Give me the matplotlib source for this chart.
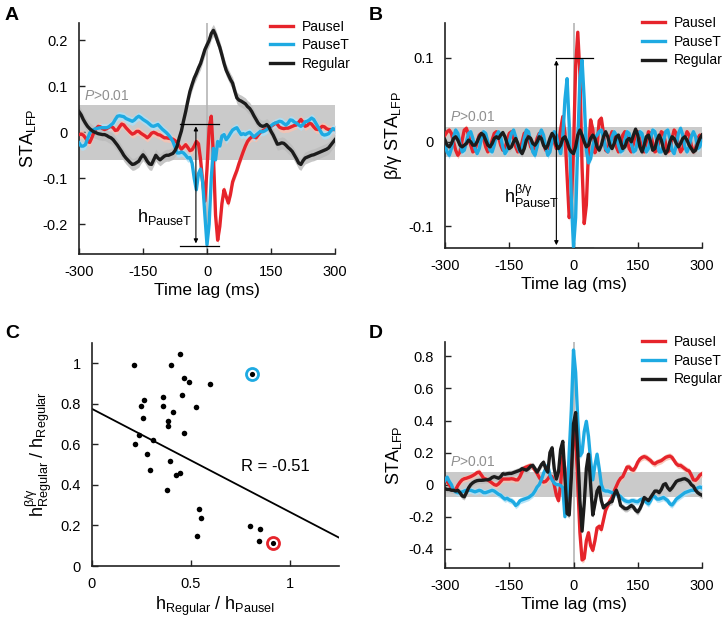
import numpy as np
import matplotlib.pyplot as plt

plt.rcParams['font.family'] = ['Liberation Sans', 'DejaVu Sans']
plt.rcParams['mathtext.fontset'] = 'custom'
plt.rcParams['mathtext.rm'] = 'Liberation Sans'
plt.rcParams['mathtext.it'] = 'Liberation Sans:italic'
plt.rcParams['mathtext.bf'] = 'Liberation Sans:bold'
plt.rcParams['axes.unicode_minus'] = False

# time lag axis (ms), 5 ms bins
lag = np.arange(-300, 301, 5)

# ---- panel A: STA_LFP ----
a_pausei = [
    -0.005, -0.004, -0.006, -0.012, -0.020, -0.022, -0.012, 0.000, 0.008, 0.013,
    0.012, 0.008, 0.006, 0.008, 0.011, 0.013, 0.010, 0.004, 0.005, 0.012,
    0.018, 0.016, 0.010, 0.005, 0.000, -0.004, -0.002, 0.002, 0.002, -0.002,
    -0.005, -0.008, -0.012, -0.008, -0.002, 0.000, -0.002, -0.005, -0.006, -0.009,
    -0.012, -0.012, -0.013, -0.014, -0.015, -0.018, -0.023, -0.030, -0.037, -0.032,
    -0.027, -0.033, -0.040, -0.038, -0.030, -0.020, -0.025, -0.060, -0.110, -0.150,
    -0.080, 0.010, 0.035, -0.050, -0.180, -0.235, -0.205, -0.155, -0.125, -0.140,
    -0.154, -0.135, -0.108, -0.095, -0.083, -0.068, -0.055, -0.042, -0.030, -0.020,
    -0.014, -0.010, -0.010, -0.012, -0.006, 0.000, 0.003, 0.006, 0.008, 0.011,
    0.013, 0.016, 0.020, 0.017, 0.011, 0.009, 0.008, 0.009, 0.009, 0.011,
    0.013, 0.015, 0.016, 0.022, 0.028, 0.022, 0.013, 0.015, 0.020, 0.018,
    0.012, 0.007, 0.006, 0.009, 0.013, 0.012, 0.008, 0.006, 0.006, 0.006,
    0.006]
a_pauset = [
    -0.023, -0.030, -0.030, -0.027, -0.014, -0.002, 0.004, 0.006, 0.008, 0.009,
    0.010, 0.010, 0.010, 0.010, 0.012, 0.016, 0.020, 0.028, 0.035, 0.036,
    0.035, 0.034, 0.030, 0.028, 0.026, 0.024, 0.027, 0.032, 0.035, 0.032,
    0.028, 0.025, 0.022, 0.018, 0.014, 0.013, 0.015, 0.017, 0.012, 0.007,
    0.003, -0.001, -0.006, -0.012, -0.020, -0.032, -0.045, -0.045, -0.043, -0.045,
    -0.050, -0.056, -0.055, -0.067, -0.100, -0.125, -0.090, -0.080, -0.110, -0.180,
    -0.245, -0.200, -0.100, -0.035, -0.060, -0.020, -0.030, -0.008, -0.005, -0.016,
    -0.010, -0.002, 0.005, 0.008, 0.010, 0.002, -0.005, -0.003, -0.005, -0.002,
    0.000, -0.005, -0.010, -0.006, -0.002, 0.002, 0.001, 0.003, 0.006, 0.010,
    0.014, 0.018, 0.020, 0.022, 0.024, 0.023, 0.019, 0.016, 0.020, 0.027,
    0.026, 0.022, 0.020, 0.016, 0.013, 0.017, 0.023, 0.024, 0.027, 0.031,
    0.028, 0.020, 0.012, 0.004, -0.004, -0.006, -0.005, -0.003, 0.003, 0.008,
    0.006]
a_regular = [
    0.045, 0.038, 0.028, 0.020, 0.013, 0.008, 0.004, 0.001, -0.001, -0.003,
    -0.004, -0.005, -0.005, -0.007, -0.010, -0.012, -0.016, -0.022, -0.028, -0.035,
    -0.042, -0.050, -0.056, -0.061, -0.066, -0.070, -0.069, -0.066, -0.063, -0.055,
    -0.049, -0.055, -0.063, -0.069, -0.070, -0.060, -0.050, -0.056, -0.060, -0.056,
    -0.052, -0.050, -0.050, -0.048, -0.046, -0.040, -0.030, -0.012, 0.003, 0.025,
    0.045, 0.068, 0.089, 0.104, 0.118, 0.128, 0.140, 0.150, 0.165, 0.180,
    0.190, 0.200, 0.215, 0.222, 0.212, 0.198, 0.185, 0.168, 0.150, 0.135,
    0.125, 0.115, 0.107, 0.090, 0.075, 0.070, 0.068, 0.065, 0.062, 0.056,
    0.052, 0.045, 0.036, 0.028, 0.020, 0.015, 0.013, 0.014, 0.017, 0.012,
    0.002, -0.006, -0.016, -0.026, -0.025, -0.023, -0.024, -0.028, -0.033, -0.037,
    -0.042, -0.050, -0.058, -0.067, -0.070, -0.062, -0.056, -0.054, -0.052, -0.050,
    -0.049, -0.047, -0.045, -0.043, -0.041, -0.039, -0.037, -0.034, -0.028, -0.022,
    -0.016]
a_sem = [0.009, 0.009, 0.013]
a_sig = 0.06

# ---- panel B: beta/gamma filtered STA_LFP ----
b_pausei = [
    0.008, 0.012, 0.014, 0.010, 0.000, -0.010, -0.016, -0.012, 0.002, 0.014,
    0.016, 0.008, -0.004, -0.012, -0.010, 0.000, 0.008, 0.010, 0.004, -0.006,
    -0.012, -0.008, 0.002, 0.010, 0.012, 0.006, -0.004, -0.010, -0.008, 0.002,
    0.010, 0.012, 0.004, -0.006, -0.012, -0.010, 0.000, 0.010, 0.012, 0.004,
    -0.006, -0.010, -0.006, 0.004, 0.010, 0.008, -0.002, -0.010, -0.008, 0.002,
    0.006, 0.000, -0.008, -0.004, 0.015, 0.030, 0.010, -0.040, -0.090, -0.070,
    -0.010, 0.090, 0.130, 0.080, -0.030, -0.097, -0.075, -0.010, 0.026, 0.015,
    -0.013, -0.005, 0.025, 0.028, 0.010, -0.010, -0.012, 0.004, 0.012, 0.006,
    -0.006, -0.012, -0.004, 0.008, 0.012, 0.004, -0.008, -0.012, -0.002, 0.010,
    0.012, 0.002, -0.010, -0.012, 0.000, 0.012, 0.010, -0.002, -0.012, -0.010,
    0.002, 0.012, 0.010, -0.002, -0.012, -0.010, 0.004, 0.014, 0.010, -0.004,
    -0.012, -0.008, 0.004, 0.012, 0.008, -0.004, -0.012, -0.008, 0.004, 0.008,
    0.004]
b_pauset = [
    -0.004, -0.012, -0.016, -0.008, 0.006, 0.014, 0.010, -0.002, -0.012, -0.010,
    0.000, 0.010, 0.012, 0.004, -0.008, -0.014, -0.008, 0.004, 0.012, 0.010,
    0.000, -0.010, -0.012, -0.004, 0.008, 0.012, 0.006, -0.006, -0.014, -0.010,
    0.000, 0.010, 0.014, 0.006, -0.006, -0.012, -0.008, 0.004, 0.014, 0.012,
    0.000, -0.012, -0.016, -0.006, 0.008, 0.014, 0.008, -0.006, -0.016, -0.012,
    0.002, 0.012, 0.008, -0.006, -0.014, 0.005, 0.050, 0.075, 0.020, -0.070,
    -0.125, -0.090, 0.000, 0.075, 0.097, 0.050, -0.010, -0.025, -0.020, -0.005,
    0.005, 0.008, 0.012, 0.014, 0.005, -0.008, -0.012, -0.006, 0.006, 0.012,
    0.008, -0.004, -0.012, -0.010, 0.002, 0.012, 0.010, -0.002, -0.012, -0.010,
    0.002, 0.012, 0.010, -0.004, -0.012, -0.008, 0.004, 0.014, 0.012, 0.000,
    -0.012, -0.012, 0.000, 0.012, 0.014, 0.004, -0.010, -0.014, -0.004, 0.010,
    0.016, 0.008, -0.006, -0.012, -0.006, 0.006, 0.012, 0.006, -0.008, -0.006,
    0.004]
b_regular = [
    0.002, -0.004, -0.006, -0.002, 0.004, 0.006, 0.002, -0.004, -0.006, -0.004,
    -0.002, 0.002, 0.000, -0.004, -0.004, 0.000, 0.006, 0.010, 0.008, 0.002,
    -0.004, -0.006, -0.002, 0.004, 0.006, 0.004, 0.008, 0.011, 0.006, -0.002,
    -0.008, -0.006, 0.000, 0.004, -0.002, -0.010, -0.014, -0.008, 0.002, 0.006,
    0.004, -0.002, -0.004, 0.000, 0.006, 0.004, -0.004, -0.008, -0.004, 0.004,
    0.010, 0.006, -0.004, -0.008, -0.004, 0.004, 0.006, 0.000, -0.008, -0.012,
    -0.014, -0.006, 0.008, 0.014, 0.008, 0.000, -0.006, -0.004, 0.004, 0.008,
    0.004, -0.006, -0.010, -0.004, 0.006, 0.012, 0.006, -0.004, -0.008, -0.002,
    0.006, 0.008, 0.000, -0.008, -0.006, 0.002, 0.004, 0.000, 0.008, 0.015,
    0.008, -0.006, -0.012, -0.004, 0.006, 0.008, 0.000, -0.010, -0.008, 0.002,
    0.008, 0.002, -0.008, -0.014, -0.010, 0.000, 0.006, 0.004, -0.002, -0.006,
    -0.002, 0.004, 0.006, 0.002, -0.004, -0.008, -0.012, -0.010, -0.002, 0.004,
    0.008]
b_sem = [0.004, 0.004, 0.004]
b_sig = 0.018

# ---- panel D: STA_LFP ----
d_pausei = [
    0.037, 0.020, 0.000, -0.020, -0.035, -0.030, -0.005, 0.015, 0.030, 0.037,
    0.040, 0.045, 0.050, 0.057, 0.065, 0.075, 0.078, 0.060, 0.040, 0.035,
    0.030, 0.020, 0.010, 0.000, -0.004, 0.005, 0.020, 0.035, 0.035, 0.035,
    0.035, 0.037, 0.035, 0.030, 0.030, 0.050, 0.080, 0.105, 0.110, 0.115,
    0.120, 0.110, 0.090, 0.070, 0.045, 0.025, 0.016, 0.020, 0.035, 0.055,
    0.050, 0.000, -0.066, -0.100, 0.000, 0.180, 0.100, -0.130, -0.100, 0.100,
    0.330, 0.300, 0.000, -0.300, -0.470, -0.460, -0.350, -0.300, -0.380, -0.410,
    -0.350, -0.270, -0.260, -0.280, -0.220, -0.160, -0.130, -0.100, -0.080, -0.040,
    -0.010, 0.020, 0.040, 0.050, 0.080, 0.110, 0.110, 0.095, 0.090, 0.110,
    0.140, 0.160, 0.170, 0.175, 0.170, 0.160, 0.150, 0.135, 0.130, 0.140,
    0.145, 0.150, 0.160, 0.170, 0.175, 0.178, 0.170, 0.150, 0.130, 0.120,
    0.120, 0.110, 0.100, 0.090, 0.085, 0.060, 0.030, 0.027, 0.040, 0.060,
    0.068]
d_pauset = [
    0.026, 0.047, 0.020, 0.000, -0.035, -0.045, -0.050, -0.050, -0.045, -0.040,
    -0.035, -0.035, -0.035, -0.040, -0.045, -0.040, -0.035, -0.040, -0.050, -0.050,
    -0.045, -0.040, -0.035, -0.040, -0.050, -0.060, -0.066, -0.080, -0.090, -0.085,
    -0.095, -0.100, -0.110, -0.130, -0.120, -0.100, -0.095, -0.090, -0.085, -0.080,
    -0.070, -0.060, -0.040, -0.015, 0.000, 0.030, 0.070, 0.100, 0.120, 0.060,
    0.030, 0.010, 0.000, 0.000, -0.005, -0.020, -0.200, -0.100, 0.200, 0.470,
    0.840, 0.700, 0.400, 0.180, 0.200, 0.330, 0.395, 0.300, 0.150, 0.030,
    0.120, 0.190, 0.100, 0.000, -0.035, -0.040, -0.040, -0.045, -0.050, -0.055,
    -0.060, -0.065, -0.075, -0.090, -0.100, -0.105, -0.107, -0.100, -0.100, -0.105,
    -0.107, -0.095, -0.090, -0.095, -0.110, -0.120, -0.100, -0.070, -0.075, -0.090,
    -0.090, -0.085, -0.080, -0.090, -0.100, -0.120, -0.127, -0.110, -0.090, -0.080,
    -0.070, -0.060, -0.050, -0.045, -0.040, -0.035, -0.035, -0.030, -0.020, -0.015,
    -0.020]
d_regular = [
    -0.025, -0.030, -0.030, -0.035, -0.035, -0.040, -0.035, -0.050, -0.070, -0.076,
    -0.050, -0.020, 0.000, 0.012, 0.020, 0.025, 0.027, 0.027, 0.028, 0.030,
    0.030, 0.035, 0.045, 0.050, 0.045, 0.040, 0.050, 0.068, 0.065, 0.068,
    0.070, 0.070, 0.075, 0.080, 0.085, 0.090, 0.100, 0.095, 0.090, 0.100,
    0.115, 0.120, 0.100, 0.078, 0.100, 0.125, 0.140, 0.100, 0.078, 0.200,
    0.230, 0.100, 0.035, 0.080, 0.220, 0.270, 0.050, -0.180, -0.190, 0.050,
    0.380, 0.450, 0.200, -0.100, -0.290, -0.120, 0.100, 0.190, 0.000, -0.190,
    -0.120, -0.040, -0.015, -0.100, -0.145, -0.130, -0.120, -0.110, -0.105, -0.060,
    -0.035, -0.070, -0.130, -0.140, -0.150, -0.150, -0.140, -0.130, -0.140, -0.160,
    -0.170, -0.150, -0.120, -0.080, -0.090, -0.100, -0.080, -0.060, -0.040, -0.040,
    -0.050, -0.030, 0.000, 0.006, -0.020, -0.035, -0.020, 0.000, 0.020, 0.027,
    0.030, 0.035, 0.037, 0.030, 0.020, 0.000, -0.010, -0.035, -0.050, -0.060,
    -0.066]
d_sem = [0.02, 0.02, 0.02]
d_sig = 0.08

# ---- panel C: scatter ----
c_x = [0.214, 0.401, 0.444, 0.466, 0.490, 0.598, 0.359, 0.264, 0.456, 0.247,
       0.359, 0.412, 0.525, 0.258, 0.387, 0.387, 0.468, 0.237, 0.219, 0.311,
       0.276, 0.397, 0.295, 0.446, 0.423, 0.382, 0.540, 0.550, 0.529, 0.798,
       0.852, 0.843]
c_y = [0.990, 0.990, 1.048, 0.929, 0.910, 0.898, 0.832, 0.819, 0.845, 0.791,
       0.788, 0.758, 0.783, 0.729, 0.717, 0.691, 0.656, 0.648, 0.604, 0.620,
       0.551, 0.518, 0.472, 0.460, 0.447, 0.375, 0.280, 0.238, 0.150, 0.199,
       0.181, 0.125]
c_pausei = (0.916, 0.115)
c_pauset = (0.810, 0.946)
c_fit_x = [0.0, 1.25]
c_fit_y = [0.775, 0.140]

names = ['PauseI', 'PauseT', 'Regular']
RED = '#e6242b'
BLUE = '#1eaae2'
BLACK = '#1c1c1c'
colors = [RED, BLUE, BLACK]
band_colors = ['#f8c2b2', '#ace0f6', '#bcbcbc']
SIG = '#cacaca'

fig = plt.figure(figsize=(7.28, 6.27), dpi=100)


def style_axes(ax):
    for s in ['top', 'right']:
        ax.spines[s].set_visible(False)
    for s in ['left', 'bottom']:
        ax.spines[s].set_linewidth(1.2)
        ax.spines[s].set_color('#222222')
    ax.tick_params(direction='in', length=4, width=1, labelsize=10.5, color='#222222', pad=8)


def trace_panel(rect, series, sems, sig, ylim, yticks, ylabel, ptext_y, leg_anchor):
    ax = fig.add_axes(rect)
    ax.axhspan(-sig, sig, color=SIG, lw=0, zorder=0)
    ax.axvline(0, color='#b5b5b5', lw=1.2, zorder=1)
    for vals, sem, bc in zip(series, sems, band_colors):
        v = np.array(vals)
        ax.fill_between(lag, v - sem, v + sem, color=bc, lw=0, alpha=0.85, zorder=2)
    for vals, name, c in zip(series, names, colors):
        ax.plot(lag, vals, color=c, lw=2.4, label=name, zorder=3)
    ax.set_xlim(-300, 300)
    ax.set_ylim(*ylim)
    ax.set_xticks([-300, -150, 0, 150, 300])
    ax.set_xticklabels(['-300', '-150', '0', '150', '300'])
    ax.set_yticks(yticks)
    ax.set_yticklabels(['0' if t == 0 else ('%g' % t) for t in yticks])
    ax.set_xlabel('Time lag (ms)', fontsize=12.5, labelpad=3)
    ax.set_ylabel(ylabel, fontsize=13, labelpad=3)
    ax.text(-288, ptext_y, r'$P$>0.01', color='#8f8f8f', fontsize=10, va='bottom')
    ax.legend(frameon=False, loc='upper left', bbox_to_anchor=leg_anchor, fontsize=10,
              handlelength=1.7, handletextpad=0.6, labelspacing=0.33, borderpad=0,
              borderaxespad=0)
    style_axes(ax)
    return ax


# A
axA = trace_panel([79 / 728, 1 - 254 / 627, 256 / 728, 231 / 627],
                  [a_pausei, a_pauset, a_regular], a_sem, a_sig, (-0.265, 0.238),
                  [-0.2, -0.1, 0, 0.1, 0.2], r'STA$_\mathregular{LFP}$', 0.063, (0.745, 1.015))
axA.plot([-63, 27], [0.019, 0.019], color='k', lw=0.9, zorder=4)
axA.plot([-63, 27], [-0.248, -0.248], color='k', lw=0.9, zorder=4)
axA.annotate('', xy=(-26, -0.248), xytext=(-26, 0.019),
             arrowprops=dict(arrowstyle='<|-|>', color='k', lw=0.8, mutation_scale=6), zorder=4)
axA.text(-34, -0.185, r'h$_\mathregular{PauseT}$', fontsize=13, ha='right', va='center')

# B
axB = trace_panel([445 / 728, 1 - 248 / 627, 257 / 728, 225 / 627],
                  [b_pausei, b_pauset, b_regular], b_sem, b_sig, (-0.126, 0.141),
                  [-0.1, 0, 0.1], r'β/γ STA$_\mathregular{LFP}$', 0.021, (0.765, 1.03))
axB.plot([-42, 46], [0.1, 0.1], color='k', lw=0.9, zorder=4)
axB.plot([-42, 46], [-0.126, -0.126], color='k', lw=0.9, zorder=4)
axB.annotate('', xy=(-40, -0.126), xytext=(-40, 0.1),
             arrowprops=dict(arrowstyle='<|-|>', color='k', lw=0.8, mutation_scale=6), zorder=4)
axB.text(-32, -0.065, r'$\mathregular{h^{β/γ}_{PauseT}}$', fontsize=13, ha='right', va='center')

# D
axD = trace_panel([445 / 728, 1 - 568 / 627, 257 / 728, 226 / 627],
                  [d_pausei, d_pauset, d_regular], d_sem, d_sig, (-0.52, 0.89),
                  [-0.4, -0.2, 0, 0.2, 0.4, 0.6, 0.8], r'STA$_\mathregular{LFP}$', 0.095, (0.765, 1.03))

# C
axC = fig.add_axes([92 / 728, 1 - 566 / 627, 247 / 728, 223 / 627])
axC.plot(c_fit_x, c_fit_y, color='k', lw=1.3, zorder=2)
axC.scatter(c_x, c_y, s=16, color='k', lw=0, zorder=3)
axC.scatter([c_pausei[0]], [c_pausei[1]], s=75, facecolor='white', edgecolor=RED, lw=2.0, zorder=3)
axC.scatter([c_pauset[0]], [c_pauset[1]], s=75, facecolor='white', edgecolor=BLUE, lw=2.0, zorder=3)
axC.scatter([c_pausei[0], c_pauset[0]], [c_pausei[1], c_pauset[1]], s=14, color='k', lw=0, zorder=4)
axC.text(0.756, 0.49, 'R = -0.51', fontsize=12, va='center')
axC.set_xlim(0, 1.25)
axC.set_ylim(0, 1.1)
axC.set_xticks([0, 0.5, 1])
axC.set_xticklabels(['0', '0.5', '1'])
axC.set_yticks([0, 0.2, 0.4, 0.6, 0.8, 1])
axC.set_yticklabels(['0', '0.2', '0.4', '0.6', '0.8', '1'])
axC.set_xlabel(r'$\mathregular{h_{Regular}\ /\ h_{PauseI}}$', fontsize=13, labelpad=3)
axC.set_ylabel(r'$\mathregular{h^{β/γ}_{Regular}\ /\ h_{Regular}}$', fontsize=13, labelpad=5)
style_axes(axC)

for lab, x, y in [('A', 5, 20), ('B', 369, 20), ('C', 5, 338), ('D', 369, 338)]:
    fig.text(x / 728, 1 - y / 627, lab, fontsize=14, fontweight='bold')

fig.savefig('out.png', dpi=100)
